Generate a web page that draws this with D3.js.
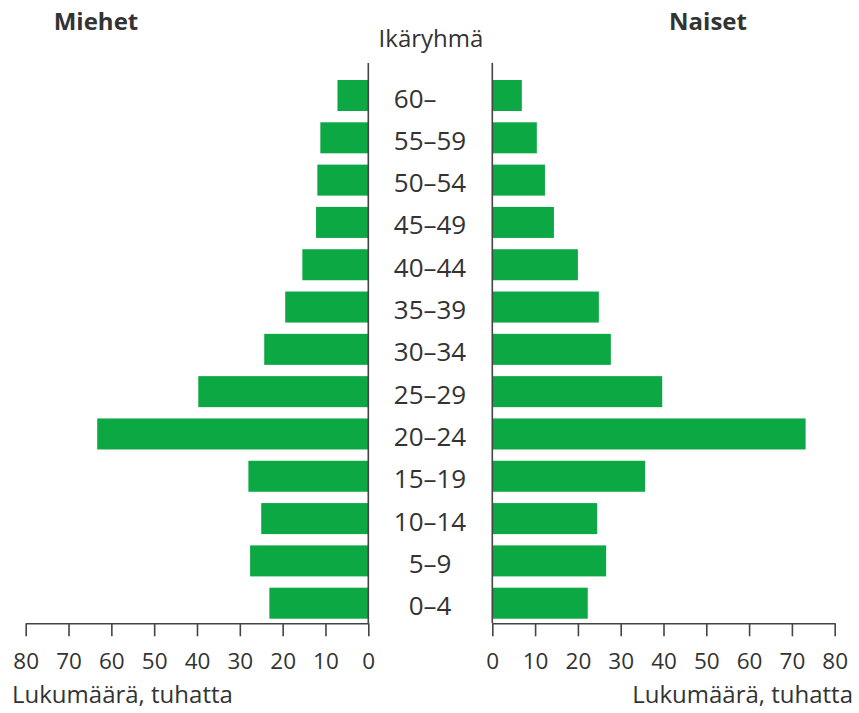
<!DOCTYPE html>
<html>
<head>
<meta charset="utf-8">
<script src="https://cdn.jsdelivr.net/npm/d3@7"></script>
<style>
  html, body { margin: 0; padding: 0; background: #fff; }
  svg text { font-family: "Open Sans", "Noto Sans", sans-serif; fill: #333; }
</style>
</head>
<body>
<svg id="chart" width="859" height="713"></svg>
<script>
// Data
const ageGroups = ["60–", "55–59", "50–54", "45–49", "40–44", "35–39", "30–34", "25–29", "20–24", "15–19", "10–14", "5–9", "0–4"];
const men   = [7.2, 11.2, 11.9, 12.2, 15.4, 19.4, 24.3, 39.7, 63.3, 28.0, 25.0, 27.6, 23.1];
const women = [6.9, 10.4, 12.3, 14.4, 20.0, 24.9, 27.7, 39.7, 73.2, 35.7, 24.5, 26.6, 22.3];
const tickValues = [0, 10, 20, 30, 40, 50, 60, 70, 80];
const titleMen = "Miehet";
const titleWomen = "Naiset";
const titleAge = "Ikäryhmä";
const axisTitle = "Lukumäärä, tuhatta";

const green = "#0ca844";
const ink = "#333333";

const svg = d3.select("#chart");

const xL = d3.scaleLinear().domain([0, 80]).range([368.3, 25.7]);
const xR = d3.scaleLinear().domain([0, 80]).range([492.3, 834.7]);
const y = d3.scaleBand().domain(ageGroups).range([74.35, 624.35]).paddingInner(0.267).paddingOuter(0.1335);
const axisY = 623.3;

// Bars
svg.append("g").selectAll("rect").data(ageGroups).join("rect")
  .attr("x", (d, i) => xL(men[i]))
  .attr("y", d => y(d))
  .attr("width", (d, i) => xL(0) - xL(men[i]))
  .attr("height", y.bandwidth())
  .attr("fill", green);

svg.append("g").selectAll("rect").data(ageGroups).join("rect")
  .attr("x", xR(0))
  .attr("y", d => y(d))
  .attr("width", (d, i) => xR(women[i]) - xR(0))
  .attr("height", y.bandwidth())
  .attr("fill", green);

// Vertical baselines
[xL(0), xR(0)].forEach(x => {
  svg.append("line").attr("x1", x).attr("x2", x).attr("y1", 63).attr("y2", axisY)
    .attr("stroke", "#444").attr("stroke-width", 1.6);
});

// Axes
function styleAxis(g) {
  g.select(".domain").attr("stroke", "#444").attr("stroke-width", 1.6);
  g.selectAll(".tick line").attr("stroke", "#444").attr("stroke-width", 1.6);
  g.selectAll(".tick text").attr("font-size", 22.5).attr("fill", ink)
    .attr("font-family", "'Open Sans', 'Noto Sans', sans-serif")
    .attr("dy", null).attr("y", 46);
}
svg.append("g").attr("transform", `translate(0,${axisY})`)
  .call(d3.axisBottom(xL).tickValues(tickValues).tickSize(13).tickSizeOuter(0).tickFormat(d3.format("d")))
  .call(styleAxis);
svg.append("g").attr("transform", `translate(0,${axisY})`)
  .call(d3.axisBottom(xR).tickValues(tickValues).tickSize(13).tickSizeOuter(0).tickFormat(d3.format("d")))
  .call(styleAxis);

// Age labels
const cx = 430;
const labels = svg.append("g").selectAll("text").data(ageGroups).join("text")
  .attr("x", cx)
  .attr("y", d => y(d) + y.bandwidth() / 2 + 12)
  .attr("text-anchor", "middle")
  .attr("font-size", 26)
  .text(d => d);
// align "60–" left with "55–59"
const refNode = labels.filter((d, i) => i === 1).node();
const refW = refNode.getComputedTextLength();
labels.filter((d, i) => i === 0).attr("text-anchor", "start").attr("x", cx - refW / 2);

// Titles
svg.append("text").attr("x", 96).attr("y", 30).attr("text-anchor", "middle")
  .attr("font-size", 24).attr("font-weight", 700).text(titleMen);
svg.append("text").attr("x", 708).attr("y", 30).attr("text-anchor", "middle")
  .attr("font-size", 24).attr("font-weight", 700).text(titleWomen);
svg.append("text").attr("x", 431).attr("y", 47).attr("text-anchor", "middle")
  .attr("font-size", 24).text(titleAge);

svg.append("text").attr("x", 12).attr("y", 703).attr("text-anchor", "start")
  .attr("font-size", 24).text(axisTitle);
svg.append("text").attr("x", 853).attr("y", 703).attr("text-anchor", "end")
  .attr("font-size", 24).text(axisTitle);
</script>
</body>
</html>
